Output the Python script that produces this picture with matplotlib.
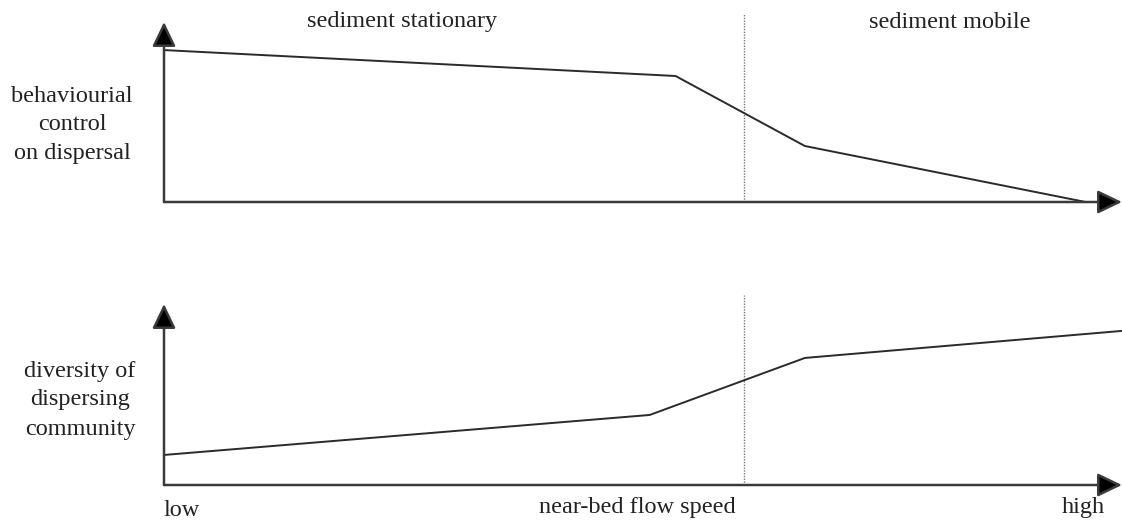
import matplotlib
matplotlib.use("Agg")
import matplotlib.pyplot as plt

plt.rcParams['font.family'] = ['Liberation Serif', 'DejaVu Serif']

# flow speed (0 = low, 1 = high) and schematic response, both in axis units
speed_top = [0.0, 0.534, 0.669, 0.962]
behaviour = [0.844, 0.70, 0.311, 0.0]
speed_bottom = [0.0, 0.507, 0.669, 0.999]
diversity = [0.166, 0.387, 0.702, 0.851]
threshold = 0.605  # onset of sediment motion

region_labels = ["sediment stationary", "sediment mobile"]
top_ylabel = "behaviourial\ncontrol\non dispersal"
bottom_ylabel = "diversity of\ndispersing\ncommunity"
xlabel = "near-bed flow speed"
x_ends = ["low", "high"]

W, H = 1122, 522
fig = plt.figure(figsize=(W / 100, H / 100), dpi=100)

ax_top = fig.add_axes([164 / W, 320 / H, 958 / W, 180 / H])
ax_bot = fig.add_axes([164 / W, 37 / H, 958 / W, 181 / H])

arrow = dict(arrowstyle='-|>,head_length=0.75,head_width=0.36', fc='black',
             ec='#3a3a3a', lw=1.8, mutation_scale=20, shrinkA=0, shrinkB=0)

for ax in (ax_top, ax_bot):
    ax.set_xlim(0, 1)
    ax.set_ylim(0, 1)
    ax.axis('off')
    ax.annotate('', xy=(1, 0), xytext=(0, 0), xycoords='axes fraction',
                arrowprops=arrow, annotation_clip=False)
    ax.annotate('', xy=(0, 1), xytext=(0, 0), xycoords='axes fraction',
                arrowprops=arrow, annotation_clip=False)
    ax.plot([threshold, threshold], [0, 1.05], color='#777777', lw=1.0,
            ls=(0, (1, 1)), clip_on=False)

ax_top.plot(speed_top, behaviour, color='#2a2a2a', lw=1.4, clip_on=False)
ax_bot.plot(speed_bottom, diversity, color='#2a2a2a', lw=1.4, clip_on=False)

fs = 17.5
fig.text(402 / W, 1 - 22 / H, region_labels[0], ha='center', va='center',
         fontsize=fs, color='#222222')
fig.text(950 / W, 1 - 22 / H, region_labels[1], ha='center', va='center',
         fontsize=fs, color='#222222')
fig.text(72 / W, 1 - 125 / H, top_ylabel, ha='center', va='center',
         fontsize=fs, color='#222222', linespacing=1.5, multialignment='center')
fig.text(80 / W, 1 - 400 / H, bottom_ylabel, ha='center', va='center',
         fontsize=fs, color='#222222', linespacing=1.5, multialignment='center')
fig.text(164 / W, 1 - 510 / H, x_ends[0], ha='left', va='center',
         fontsize=fs, color='#222222')
fig.text(1105 / W, 1 - 507 / H, x_ends[1], ha='right', va='center',
         fontsize=fs, color='#222222')
fig.text(637 / W, 1 - 507 / H, xlabel, ha='center', va='center',
         fontsize=fs, color='#222222')

fig.savefig("out.png", dpi=100)
